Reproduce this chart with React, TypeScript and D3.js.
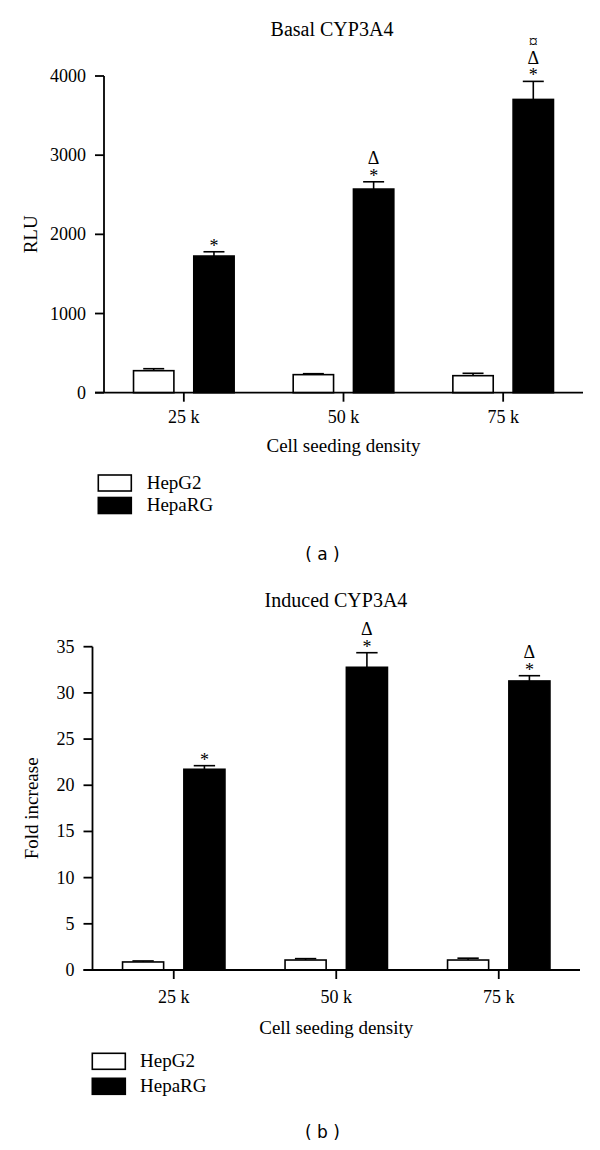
import React from 'react';
import * as d3 from 'd3';

const categories = ['25 k', '50 k', '75 k'];
const seriesNames = ['HepG2', 'HepaRG'];

const basalHepG2 = [278, 228, 215];
const basalHepG2Err = [25, 12, 30];
const basalHepaRG = [1726, 2572, 3704];
const basalHepaRGErr = [54, 92, 228];
const basalTicks = [0, 1000, 2000, 3000, 4000];
const basalMarks = [['*'], ['*', 'Δ'], ['*', 'Δ', '¤']];

const inducedHepG2 = [0.87, 1.08, 1.08];
const inducedHepG2Err = [0.11, 0.15, 0.2];
const inducedHepaRG = [21.73, 32.77, 31.29];
const inducedHepaRGErr = [0.39, 1.58, 0.57];
const inducedTicks = [0, 5, 10, 15, 20, 25, 30, 35];
const inducedMarks = [['*'], ['*', 'Δ'], ['*', 'Δ']];

const SERIF = '"Liberation Serif", "Times New Roman", serif';
const SANS = '"DejaVu Sans", Verdana, sans-serif';

type PanelProps = {
  title: string;
  yLabel: string;
  panelLabel: string;
  hepg2: number[];
  hepg2Err: number[];
  heparg: number[];
  hepargErr: number[];
  ticks: number[];
  marks: string[][];
  layout: {
    axisX: number;
    xEnd: number;
    yTop: number;
    yZero: number;
    titleX: number;
    titleY: number;
    yLabelX: number;
    tickLabelY: number;
    xTitleY: number;
    legendX: number;
    legendY: number;
    legendGap: number;
    legendTextX: number;
    panelLabelY: number;
  };
};

function Panel(p: PanelProps) {
  const L = p.layout;
  const yMax = p.ticks[p.ticks.length - 1];
  const y = d3.scaleLinear().domain([0, yMax]).range([L.yZero, L.yTop]);
  const x = d3.scaleBand<string>().domain(categories).range([L.axisX, L.xEnd]).padding(0);
  const inner = d3
    .scaleBand<string>()
    .domain(seriesNames)
    .range([0, x.step()])
    .paddingInner(0.33)
    .paddingOuter(0.49);
  const bw = inner.bandwidth();
  const tickLen = 9;
  const series = [
    { name: 'HepG2', vals: p.hepg2, errs: p.hepg2Err, fill: '#fff' },
    { name: 'HepaRG', vals: p.heparg, errs: p.hepargErr, fill: '#000' },
  ];
  const capW = bw * 0.52;
  return (
    <g>
      <text x={L.titleX} y={L.titleY} textAnchor="middle" fontFamily={SERIF} fontSize={20}>
        {p.title}
      </text>
      {/* bars */}
      {series.map((s) =>
        categories.map((c, i) => {
          const bx = (x(c) as number) + (inner(s.name) as number);
          const top = y(s.vals[i]);
          const et = y(s.vals[i] + s.errs[i]);
          const cx = bx + bw / 2;
          return (
            <g key={s.name + c}>
              <line x1={cx} x2={cx} y1={top} y2={et} stroke="#000" strokeWidth={1.6} />
              <line x1={cx - capW / 2} x2={cx + capW / 2} y1={et} y2={et} stroke="#000" strokeWidth={1.6} />
              <rect
                x={bx}
                y={top}
                width={bw}
                height={L.yZero - top}
                fill={s.fill}
                stroke="#000"
                strokeWidth={1.6}
              />
            </g>
          );
        })
      )}
      {/* significance marks, one stacked text per bar */}
      {categories.map((c, i) => {
        const cx = (x(c) as number) + (inner('HepaRG') as number) + bw / 2;
        const et = y(p.heparg[i] + p.hepargErr[i]);
        return (
          <text key={'m' + c} textAnchor="middle" fontFamily={SERIF} fontSize={18}>
            {p.marks[i].map((m, j) => {
              const center = et - 8.5 - j * 15.3;
              const off = m === '*' ? 8.5 : 6.2;
              return (
                <tspan key={j} x={cx} y={center + off}>
                  {m}
                </tspan>
              );
            })}
          </text>
        );
      })}
      {/* y axis */}
      <line x1={L.axisX} x2={L.axisX} y1={L.yTop} y2={L.yZero} stroke="#000" strokeWidth={1.8} />
      {p.ticks.map((t) => (
        <g key={t}>
          <line x1={L.axisX - tickLen} x2={L.axisX} y1={y(t)} y2={y(t)} stroke="#000" strokeWidth={1.8} />
          <text
            x={L.axisX - tickLen - 9}
            y={y(t) + 6}
            textAnchor="end"
            fontFamily={SERIF}
            fontSize={18}
          >
            {t}
          </text>
        </g>
      ))}
      {/* x axis */}
      <line x1={L.axisX - tickLen} x2={L.xEnd} y1={L.yZero} y2={L.yZero} stroke="#000" strokeWidth={1.8} />
      {categories.map((c) => {
        const cx = (x(c) as number) + x.bandwidth() / 2;
        return (
          <g key={c}>
            <line x1={cx} x2={cx} y1={L.yZero} y2={L.yZero + tickLen} stroke="#000" strokeWidth={1.8} />
            <text x={cx} y={L.tickLabelY} textAnchor="middle" fontFamily={SERIF} fontSize={18}>
              {c}
            </text>
          </g>
        );
      })}
      <text
        x={(L.axisX + L.xEnd) / 2}
        y={L.xTitleY}
        textAnchor="middle"
        fontFamily={SERIF}
        fontSize={19}
      >
        Cell seeding density
      </text>
      <text
        transform={`translate(${L.yLabelX + 6},${(L.yTop + L.yZero) / 2}) rotate(-90)`}
        textAnchor="middle"
        fontFamily={SERIF}
        fontSize={19}
      >
        {p.yLabel}
      </text>
      {/* legend */}
      {series.map((s, k) => (
        <g key={s.name}>
          <rect
            x={L.legendX}
            y={L.legendY + k * L.legendGap}
            width={33}
            height={16}
            fill={s.fill}
            stroke="#000"
            strokeWidth={1.6}
          />
          <text
            x={L.legendTextX}
            y={L.legendY + k * L.legendGap + 13.5}
            fontFamily={SERIF}
            fontSize={19}
          >
            {s.name}
          </text>
        </g>
      ))}
      <text x={322.5} y={L.panelLabelY} textAnchor="middle" fontFamily={SANS} fontSize={17}>
        ( {p.panelLabel} )
      </text>
    </g>
  );
}

export default function App() {
  return (
    <svg
      width={600}
      height={1150}
      viewBox="0 0 600 1150"
      style={{ position: 'absolute', left: 0, top: 0, background: '#fff' }}
    >
      <rect x={0} y={0} width={600} height={1150} fill="#fff" />
      <Panel
        title="Basal CYP3A4"
        yLabel="RLU"
        panelLabel="a"
        hepg2={basalHepG2}
        hepg2Err={basalHepG2Err}
        heparg={basalHepaRG}
        hepargErr={basalHepaRGErr}
        ticks={basalTicks}
        marks={basalMarks}
        layout={{
          axisX: 104,
          xEnd: 583,
          yTop: 76,
          yZero: 392.7,
          titleX: 332,
          titleY: 36,
          yLabelX: 31,
          tickLabelY: 423.3,
          xTitleY: 452.3,
          legendX: 98.3,
          legendY: 475,
          legendGap: 22.5,
          legendTextX: 146.7,
          panelLabelY: 559.5,
        }}
      />
      <Panel
        title="Induced CYP3A4"
        yLabel="Fold increase"
        panelLabel="b"
        hepg2={inducedHepG2}
        hepg2Err={inducedHepG2Err}
        heparg={inducedHepaRG}
        hepargErr={inducedHepaRGErr}
        ticks={inducedTicks}
        marks={inducedMarks}
        layout={{
          axisX: 92.5,
          xEnd: 580,
          yTop: 646.7,
          yZero: 970,
          titleX: 336,
          titleY: 606.7,
          yLabelX: 32,
          tickLabelY: 1003.3,
          xTitleY: 1034,
          legendX: 92.3,
          legendY: 1053.3,
          legendGap: 25,
          legendTextX: 140,
          panelLabelY: 1137.8,
        }}
      />
    </svg>
  );
}
